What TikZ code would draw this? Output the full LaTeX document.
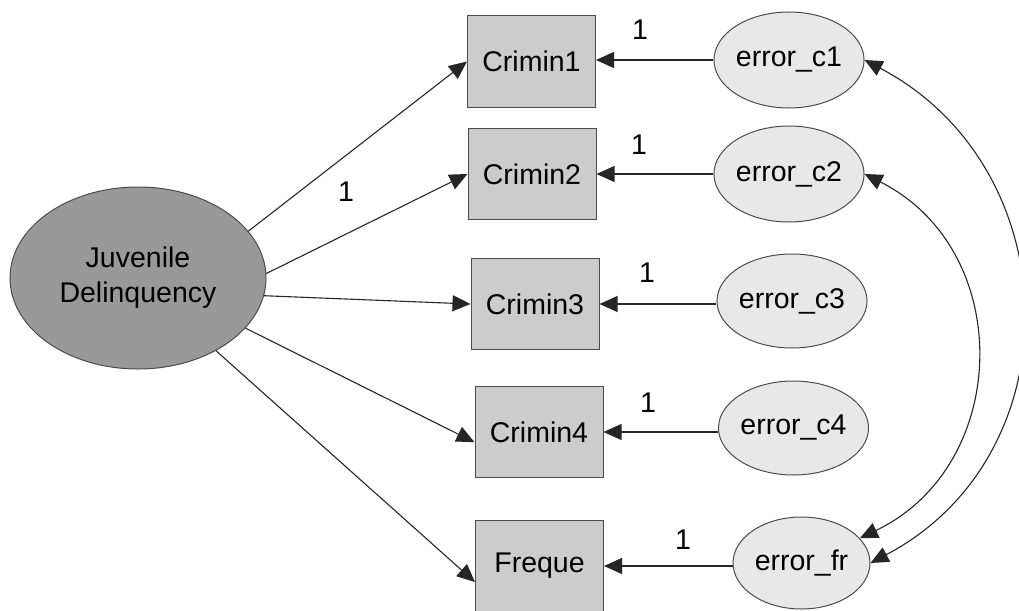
\documentclass[tikz,border=0pt]{standalone}
\usepackage{fontspec}
\setmainfont{Liberation Sans}
\usetikzlibrary{arrows.meta,shapes.geometric}
\begin{document}
\begin{tikzpicture}[x=1pt,y=-1pt,
  every node/.style={font=\fontsize{28.5}{35}\selectfont, inner sep=0pt},
  obs/.style={draw=black!70, fill=black!20, line width=1pt, rectangle, minimum width=128pt, minimum height=91pt},
  err/.style={draw=black!70, fill=black!9, line width=1pt, ellipse},
  lat/.style={draw=black!70, fill=black!40, line width=1pt, ellipse, minimum width=256pt, minimum height=182pt, align=center},
  arr/.style={line width=1.1pt, draw=black!85, -{Triangle[length=18pt,width=16pt]}},
  darr/.style={line width=1.1pt, draw=black!85, {Triangle[length=18pt,width=16pt]}-{Triangle[length=18pt,width=16pt]}}
]
\useasboundingbox (0,0) rectangle (1019,610);

\node[lat] (J) at (138,278) {Juvenile\\Delinquency};

\node[obs] (C1) at (531.5,61.5) {Crimin1};
\node[obs] (C2) at (532,174) {Crimin2};
\node[obs] (C3) at (535,304) {Crimin3};
\node[obs] (C4) at (539,432) {Crimin4};
\node[obs] (F)  at (539.5,566) {Freque};

\node[err, minimum width=148pt, minimum height=96pt] (e1) at (789,60) {error\_c1};
\node[err, minimum width=150pt, minimum height=96pt] (e2) at (789,174) {error\_c2};
\node[err, minimum width=138pt, minimum height=94pt] (e3) at (792,301) {error\_c3};
\node[err, minimum width=137pt, minimum height=94pt] (e4) at (793.5,428) {error\_c4};
\node[err, minimum width=137pt, minimum height=92pt] (ef) at (801.5,563) {error\_fr};

\draw[arr] (J.23.6) -- (C1.west);
\draw[arr] (J.2.7) -- (C2.west);
\draw[arr] (J.-8.4) -- (C3.west);
\draw[arr] (J.-25.3) -- (C4.189);
\draw[arr] (J.-43) -- (F.194);

\draw[arr] (e1.west) -- (C1.east |- e1.west);
\draw[arr] (e2.west) -- (C2.east);
\draw[arr] (e3.west |- C3.east) -- (C3.east);
\draw[arr] (e4.west |- C4.east) -- (C4.east);
\draw[arr] (ef.west |- F.east) -- (F.east);

\draw[darr] (e1.east) .. controls +(205,108) and +(205,-108) .. (ef.east);
\draw[darr] (e2.east) .. controls +(151,76) and +(152,-73) .. (ef.23);

\node (l0) at (346,192) {1};
\node (l1) at (640,30) {1};
\node (l2) at (639,145) {1};
\node (l3) at (647,273) {1};
\node (l4) at (648,403) {1};
\node (l5) at (683,540) {1};
\end{tikzpicture}
\end{document}
